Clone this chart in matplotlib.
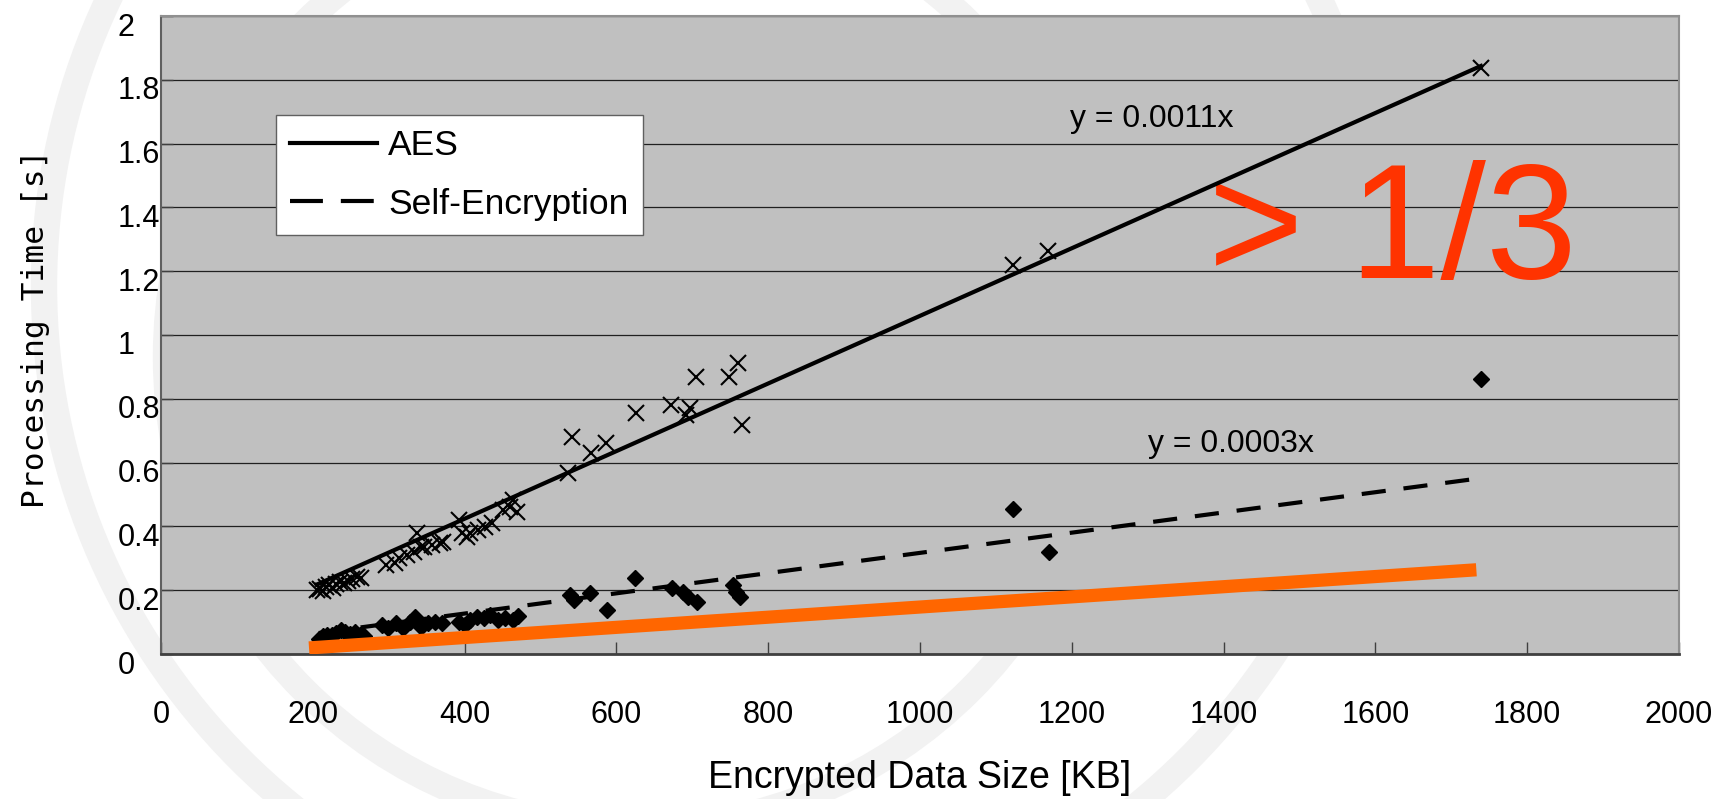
import numpy as np
import matplotlib.pyplot as plt
from matplotlib import font_manager as fm
from matplotlib.patches import Circle
from matplotlib.transforms import ScaledTranslation

# values
aes_size = [205, 210, 214, 218, 222, 226, 231, 236, 241, 246, 252, 258, 264,
            296, 308, 314, 324, 333, 337, 342, 346, 357, 368, 372,
            392, 396, 403, 407, 418, 427, 436, 451, 460, 464, 469,
            536, 541, 566, 586, 626, 672, 692, 697, 705, 749, 760, 765,
            1122, 1169, 1739]
aes_time = [0.200, 0.205, 0.198, 0.210, 0.215, 0.208, 0.220, 0.225, 0.222, 0.230, 0.235, 0.240, 0.238,
            0.279, 0.284, 0.300, 0.310, 0.321, 0.378, 0.336, 0.336, 0.342, 0.347, 0.350,
            0.420, 0.378, 0.368, 0.378, 0.389, 0.399, 0.410, 0.451, 0.462, 0.483, 0.446,
            0.566, 0.681, 0.629, 0.660, 0.756, 0.781, 0.749, 0.770, 0.867, 0.867, 0.911, 0.718,
            1.221, 1.264, 1.838]

se_size = [208, 213, 219, 225, 231, 237, 243, 249, 255, 262, 268,
           291, 299, 310, 319, 328, 335, 343, 352, 361, 370,
           392, 400, 407, 416, 425, 433, 444, 453, 464, 471,
           539, 544, 565, 587, 625, 673, 688, 694, 706, 754, 758, 763,
           1123, 1170, 1739]
se_time = [0.048, 0.055, 0.060, 0.058, 0.065, 0.075, 0.070, 0.062, 0.068, 0.060, 0.055,
           0.091, 0.080, 0.096, 0.080, 0.100, 0.117, 0.086, 0.097, 0.101, 0.096,
           0.101, 0.091, 0.107, 0.117, 0.112, 0.122, 0.107, 0.112, 0.107, 0.118,
           0.185, 0.170, 0.190, 0.138, 0.237, 0.206, 0.195, 0.180, 0.164, 0.216, 0.195, 0.180,
           0.454, 0.321, 0.861]

# trendline slopes (through origin) as drawn in the chart
aes_slope = 0.00106
se_slope = 0.000317

# hand-drawn orange line
orange_x = [195, 1733]
orange_y = [0.019, 0.264]

x_ticks = [0, 200, 400, 600, 800, 1000, 1200, 1400, 1600, 1800, 2000]
y_ticks = [0, 0.2, 0.4, 0.6, 0.8, 1.0, 1.2, 1.4, 1.6, 1.8, 2.0]
y_tick_labels = ['0', '0.2', '0.4', '0.6', '0.8', '1', '1.2', '1.4', '1.6', '1.8', '2']

installed = {f.name for f in fm.fontManager.ttflist}
text_font = ['Liberation Sans', 'DejaVu Sans']
tick_font = ['Liberation Sans Narrow'] + text_font if 'Liberation Sans Narrow' in installed else text_font
tick_size = 24 if 'Liberation Sans Narrow' in installed else 22

W, H = 1723, 799
fig = plt.figure(figsize=(W / 100, H / 100), dpi=100)

# faint watermark arcs behind the chart (pixel coords)
bg = fig.add_axes([0, 0, 1, 1], zorder=0)
bg.set_xlim(0, W)
bg.set_ylim(H, 0)
bg.axis('off')
for cx, cy, r in [(714, 286, 670), (637, 357, 471)]:
    bg.add_patch(Circle((cx, cy), r, fill=False, ec='#f2f2f2', lw=19))

ax = fig.add_axes([161 / W, 1 - 654 / H, 1518 / W, 638 / H], zorder=1)
ax.set_facecolor('#c0c0c0')

ax.plot(aes_size, aes_time, linestyle='none', marker='x', ms=11, mew=1.5,
        color='black', zorder=3)
ax.plot(se_size, se_time, linestyle='none', marker='D', ms=8.5,
        color='black', zorder=3)

aes_fit_x = np.array([min(aes_size), max(aes_size)])
se_fit_x = np.array([min(se_size), max(se_size)])
ax.plot(aes_fit_x, aes_slope * aes_fit_x, color='black', lw=3, label='AES', zorder=4)
ax.plot(se_fit_x, se_slope * se_fit_x, color='black', lw=3, dashes=(5.8, 4.3),
        label='Self-Encryption', zorder=4)

ax.plot(orange_x, orange_y, color='#ff6600', lw=9.5, solid_capstyle='butt', zorder=5)

ax.text(1305, 1.652, 'y = 0.0011x', ha='center', va='baseline', fontsize=23, family=text_font)
ax.text(1410, 0.634, 'y = 0.0003x', ha='center', va='baseline', fontsize=23, family=text_font)
ax.text(1623, 1.179, '> 1/3', ha='center', va='baseline', fontsize=118,
        color='#ff3300', family=text_font)

ax.set_xlim(0, 2000)
ax.set_ylim(0, 2)
ax.set_xticks(x_ticks)
ax.set_yticks(y_ticks)
ax.set_yticklabels(y_tick_labels)
for lab in ax.get_xticklabels() + ax.get_yticklabels():
    lab.set_family(tick_font)
    lab.set_fontsize(tick_size)
ax.tick_params(axis='x', direction='in', length=8.6, width=1, color='#404040', pad=33)
ax.tick_params(axis='y', direction='in', length=8.6, width=1, color='#404040', pad=31)
offset = ScaledTranslation(0, -8 / 100, fig.dpi_scale_trans)
for lab in ax.get_yticklabels():
    lab.set_horizontalalignment('left')
    lab.set_transform(lab.get_transform() + offset)

ax.yaxis.grid(True, color='#202020', lw=0.9)
ax.set_axisbelow(True)

ax.spines['left'].set_color('#606060')
ax.spines['left'].set_linewidth(1.5)
ax.spines['bottom'].set_color('#404040')
ax.spines['bottom'].set_linewidth(2)
for s in ['top', 'right']:
    ax.spines[s].set_color('#909090')
    ax.spines[s].set_linewidth(1.5)

ax.set_xlabel('Encrypted Data Size [KB]', fontsize=27, family=text_font)
ax.xaxis.set_label_coords(0.5, -0.194)
ax.xaxis.label.set_va('center')
ax.set_ylabel('Processing Time [s]', fontsize=22.5, family='DejaVu Sans Mono')
ax.yaxis.set_label_coords(-0.083, 0.51)
ax.yaxis.label.set_va('center')

leg = ax.legend(loc='upper left', bbox_to_anchor=(0.0758, 0.845), borderaxespad=0,
                fancybox=False, framealpha=1, edgecolor='#606060',
                prop={'family': text_font, 'size': 25.5},
                handlelength=2.44, handletextpad=0.33, borderpad=0.4, labelspacing=0.72)
leg.get_frame().set_linewidth(1)
# two long dashes in the legend key, as in the original
leg.get_lines()[1].set_dashes((7.9, 4.3))

fig.savefig('out.png', dpi=100)
